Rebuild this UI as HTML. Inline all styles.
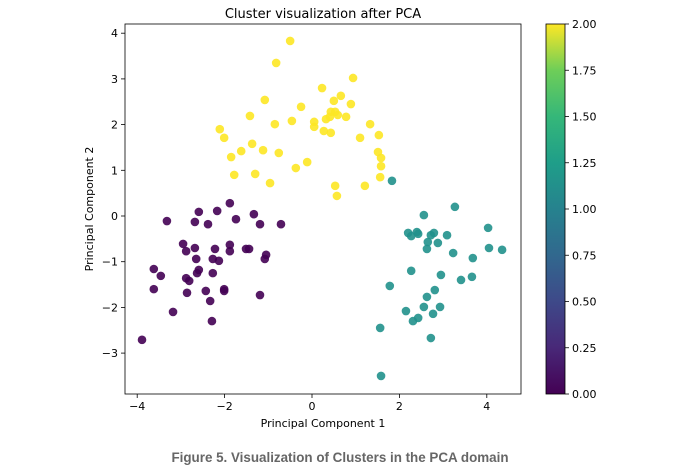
<!DOCTYPE html>
<html><head><meta charset="utf-8">
<style>
body{margin:0;background:#fff;width:680px;height:466px;overflow:hidden;font-family:"Liberation Sans","DejaVu Sans",sans-serif}
svg text{font-family:"DejaVu Sans","Liberation Sans",sans-serif}
</style></head><body>
<svg id="chart" width="680" height="466" xmlns="http://www.w3.org/2000/svg">
<defs><linearGradient id="vir" x1="0" y1="1" x2="0" y2="0">
<stop offset="0" stop-color="#440154"/><stop offset="0.125" stop-color="#482878"/><stop offset="0.25" stop-color="#3e4989"/><stop offset="0.375" stop-color="#31688e"/><stop offset="0.5" stop-color="#26828e"/><stop offset="0.625" stop-color="#1f9e89"/><stop offset="0.75" stop-color="#35b779"/><stop offset="0.875" stop-color="#6ece58"/><stop offset="1" stop-color="#fde725"/></linearGradient></defs>
<text x="323" y="18" text-anchor="middle" font-size="13">Cluster visualization after PCA</text>
<g id="plot"></g>
<text x="323" y="427" text-anchor="middle" font-size="11">Principal Component 1</text>
<text transform="translate(93,209) rotate(-90)" text-anchor="middle" font-size="11">Principal Component 2</text>
<rect x="546" y="24" width="19" height="370" fill="url(#vir)" stroke="#000" stroke-width="0.8"/>
<g id="cbticks"></g>
<text x="340" y="462" text-anchor="middle" font-size="13.4" font-weight="bold" fill="#666" style="font-family:'Liberation Sans',sans-serif">Figure 5. Visualization of Clusters in the PCA domain</text>
</svg>
<script>
const cluster0X=[-1.88,-2.59,-2.17,-1.33,-3.32,-2.68,-2.38,-1.74,-1.19,-0.71,-2.95,-2.88,-2.68,-2.22,-1.88,-1.88,-1.51,-1.44,-1.05,-1.08,-2.65,-2.27,-2.13,-3.62,-2.59,-2.63,-2.27,-3.46,-2.88,-2.81,-3.62,-2.86,-2.43,-2.01,-2.01,-1.19,-2.33,-3.18,-2.29,-3.89];
const cluster0Y=[0.28,0.09,0.11,0.04,-0.11,-0.13,-0.18,-0.07,-0.18,-0.18,-0.61,-0.77,-0.70,-0.72,-0.63,-0.77,-0.72,-0.72,-0.85,-0.94,-0.94,-0.94,-0.98,-1.16,-1.18,-1.25,-1.25,-1.31,-1.36,-1.42,-1.60,-1.68,-1.64,-1.60,-1.64,-1.73,-1.86,-2.10,-2.30,-2.71];
const cluster1X=[1.83,3.27,2.56,4.03,2.20,2.27,2.40,2.43,2.72,2.79,3.09,2.65,2.88,2.63,4.05,4.35,3.23,3.68,2.27,2.95,3.41,3.66,1.78,2.81,2.63,2.56,2.93,2.15,2.77,2.43,2.31,1.56,2.72,1.58];
const cluster1Y=[0.77,0.20,0.02,-0.26,-0.37,-0.44,-0.35,-0.39,-0.42,-0.37,-0.42,-0.57,-0.59,-0.72,-0.70,-0.74,-0.81,-0.92,-1.20,-1.29,-1.40,-1.33,-1.53,-1.62,-1.77,-1.99,-1.99,-2.08,-2.14,-2.23,-2.30,-2.45,-2.67,-3.50];
const cluster2X=[-0.50,-0.82,0.94,0.23,-1.08,0.66,0.50,0.89,-0.25,-1.42,0.43,0.53,0.59,0.78,0.32,0.41,-0.46,-0.85,0.05,0.05,1.33,1.53,0.27,0.43,1.10,-1.37,-1.85,-1.62,-1.12,-0.76,1.51,1.58,1.58,-0.11,-0.37,-1.78,-1.30,1.56,-0.96,0.53,1.21,0.57,-2.11,-2.01];
const cluster2Y=[3.83,3.35,3.02,2.80,2.54,2.63,2.52,2.45,2.39,2.19,2.28,2.28,2.21,2.17,2.12,2.17,2.08,2.01,2.06,1.95,2.01,1.77,1.86,1.82,1.71,1.58,1.29,1.42,1.44,1.38,1.40,1.27,1.09,1.18,1.05,0.90,0.92,0.85,0.72,0.66,0.66,0.44,1.90,1.71];
const xTicks=[-4,-2,0,2,4];
const yTicks=[-3,-2,-1,0,1,2,3,4];
const cbTicks=[0,0.25,0.5,0.75,1,1.25,1.5,1.75,2];
const NS='http://www.w3.org/2000/svg';
const L=125,R=521,T=24,B=394;
const sx=v=>312+v*43.7, sy=v=>216-v*45.7;
const cby=v=>394-v/2*370;
const plot=document.getElementById('plot');
function mk(t,a,p){const e=document.createElementNS(NS,t);for(const k in a)e.setAttribute(k,a[k]);(p||plot).appendChild(e);return e;}
const clusters=[[cluster0X,cluster0Y,'#440154'],[cluster2X,cluster2Y,'#fde725'],[cluster1X,cluster1Y,'#21918c']];
const names=['cluster-0-point','cluster-2-point','cluster-1-point'];
clusters.forEach((c,ci)=>{c[0].forEach((x,i)=>{
 const e=mk('circle',{cx:sx(x),cy:sy(c[1][i]),r:4.3,fill:c[2],'fill-opacity':0.9});
 
 
});});
const fr=mk('rect',{x:L,y:T,width:R-L,height:B-T,fill:'none',stroke:'#000','stroke-width':0.8});


xTicks.forEach(v=>{
 mk('line',{x1:sx(v),x2:sx(v),y1:B,y2:B+4,stroke:'#000','stroke-width':0.8});
 const t=mk('text',{x:sx(v),y:B+16,'text-anchor':'middle','font-size':11});
 t.textContent=v<0?'\u2212'+(-v):v;
 
 
});
yTicks.forEach(v=>{
 mk('line',{x1:L-4,x2:L,y1:sy(v),y2:sy(v),stroke:'#000','stroke-width':0.8});
 const t=mk('text',{x:L-7,y:sy(v)+4,'text-anchor':'end','font-size':11});
 t.textContent=v<0?'\u2212'+(-v):v;
 
 
});
const cb=document.getElementById('cbticks');
cbTicks.forEach(v=>{
 mk('line',{x1:565,x2:569,y1:cby(v),y2:cby(v),stroke:'#000','stroke-width':0.8},cb);
 const t=mk('text',{x:572,y:cby(v)+4,'font-size':11},cb);
 t.textContent=v.toFixed(2);
 
 
});
</script>
</body></html>
